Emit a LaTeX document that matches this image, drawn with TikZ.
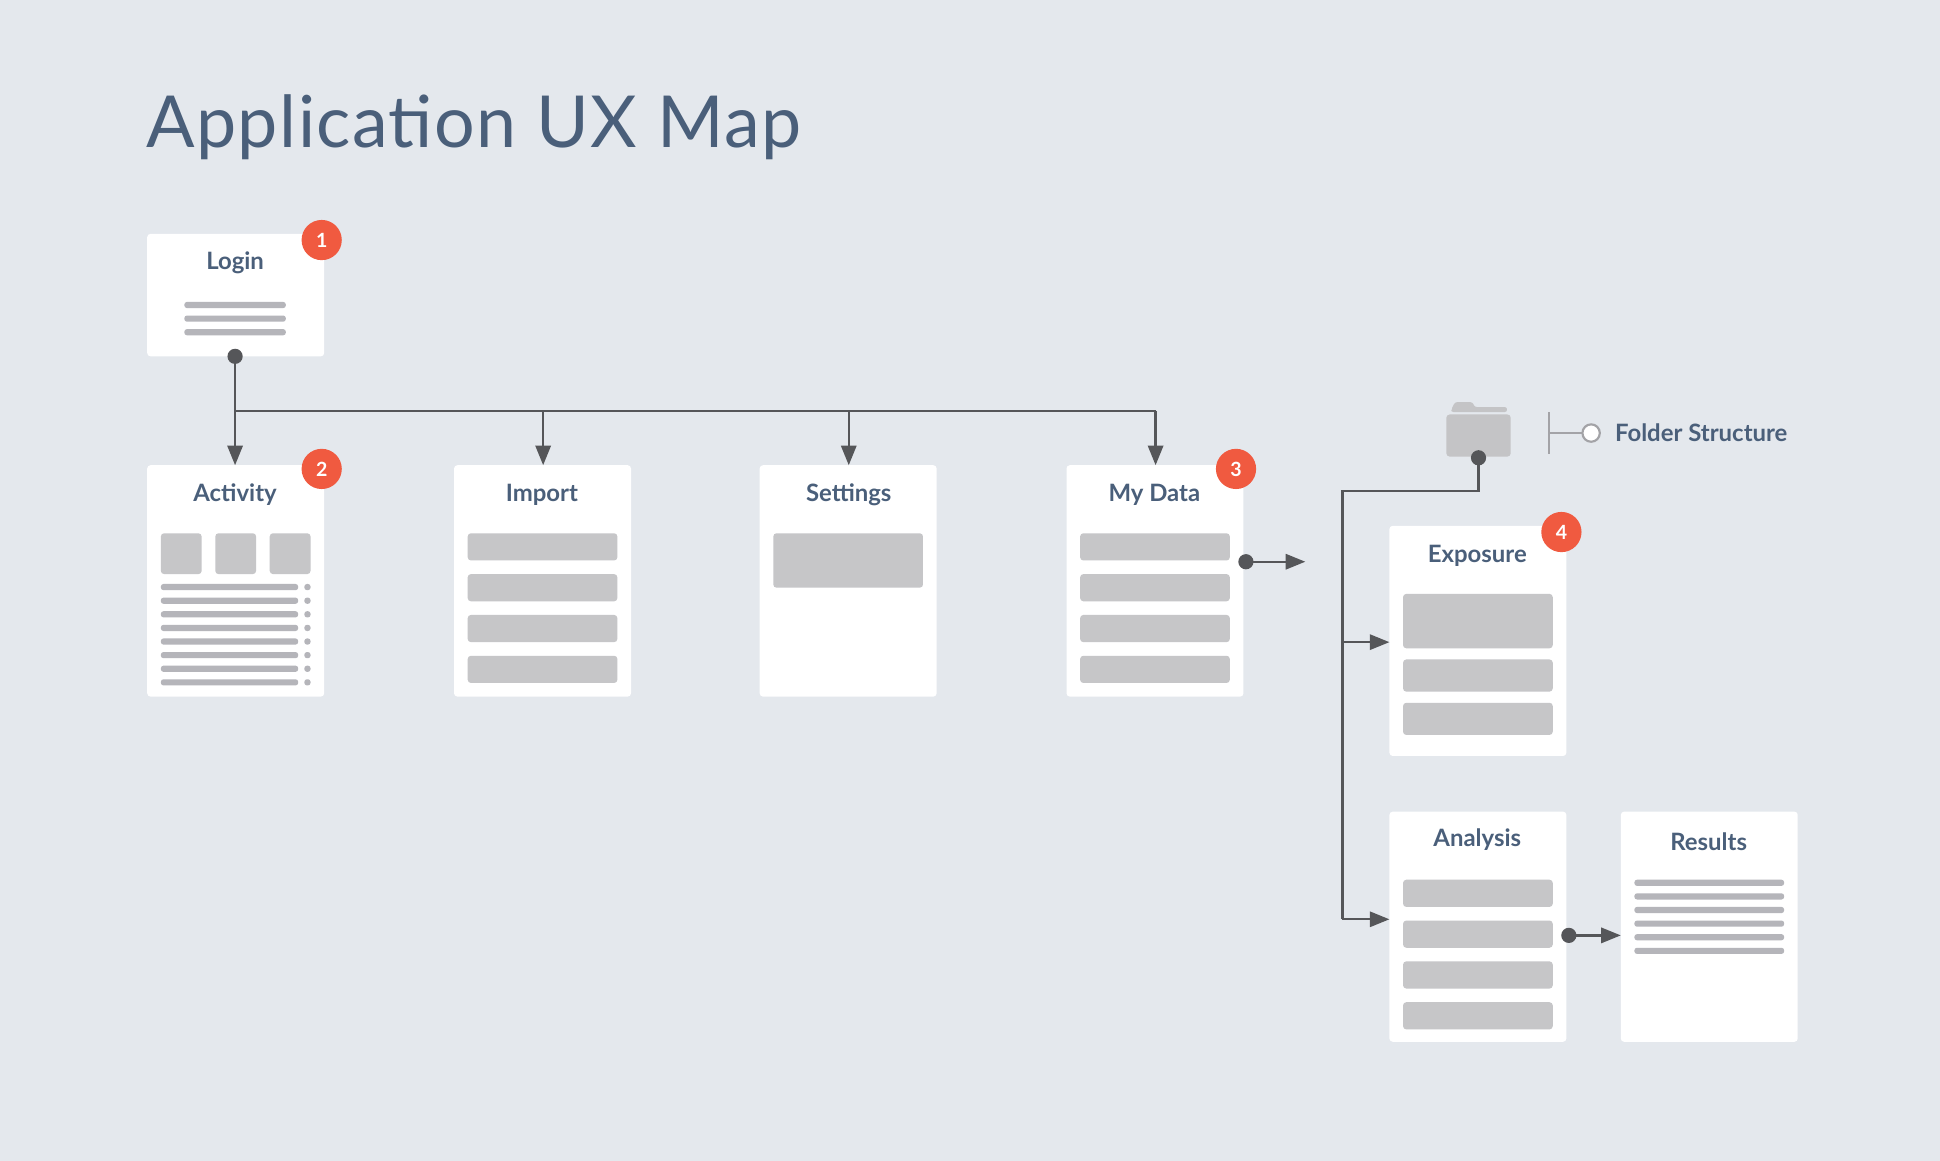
\documentclass[tikz,border=0pt]{standalone}
\usepackage{fontspec}
\setmainfont{Lato}
\usetikzlibrary{arrows.meta}
\definecolor{bg}{HTML}{E4E8ED}
\definecolor{ink}{HTML}{4A5F7A}
\definecolor{bar}{HTML}{C6C6C8}
\definecolor{ln}{HTML}{B5B5BA}
\definecolor{conn}{HTML}{555659}
\definecolor{badge}{HTML}{F05A40}
\definecolor{fold}{HTML}{C4C4C6}
\tikzset{
 card/.style={fill=white,rounded corners=1.5pt,draw=none},
 btitle/.style={text=ink,font=\fontsize{11}{13}\selectfont\bfseries,anchor=center},
 barr/.style={fill=bar,rounded corners=1.5pt},
 lnr/.style={fill=ln,rounded corners=1.2pt},
 badgec/.style={circle,fill=badge,minimum size=18.5pt,inner sep=0,text=white,font=\fontsize{9}{10}\selectfont\bfseries},
 conline/.style={draw=conn,line width=1.1pt},
 arr/.style={conline,-{Triangle[length=9pt,width=7pt]}},
 dotc/.style={circle,fill=conn,minimum size=7pt,inner sep=0},
}
\begin{document}
\begin{tikzpicture}[x=0.02cm,y=-0.02cm]
\fill[bg] (0,0) rectangle (1568,938);
\useasboundingbox (0,0) rectangle (1568,938);
\node[anchor=base west,inner sep=0,text=ink,font=\fontsize{33}{38}\selectfont\addfontfeatures{LetterSpace=2}] (title) at (118,119) {Application UX Map};
% cards
\foreach \n/\x/\y/\h in {login/119/189/99,activity/119/376/187,import/367/376/187,settings/614/376/187,mydata/862/376/187,exposure/1123/425/186,analysis/1123/656/186,results/1310/656/186}{
 \path[card] (\x,\y) rectangle ++(143,\h);
 \coordinate (\n-nw) at (\x,\y);
}
\node[btitle] (tlogin) at (190,212) {Login};
\node[btitle] (tact) at (190,400) {Activity};
\node[btitle] (timp) at (438,400) {Import};
\node[btitle] (tset) at (686,400) {Settings};
\node[btitle] (tmy) at (933,400) {My Data};
\node[btitle] (texp) at (1194,449) {Exposure};
\node[btitle] (tana) at (1194,679) {Analysis};
\node[btitle] (tres) at (1381,680) {Results};
% login lines
\foreach \y in {244,255,266} \path[lnr] (149,\y) rectangle (231,\y+5);
% activity
\foreach \x in {130,174,218} \path[barr] (\x,431) rectangle ++(33,33);
\foreach \y in {472,483,494,505,516,527,538,549}{\path[lnr] (130,\y) rectangle (241,\y+5); \path[lnr] (246,\y) rectangle (251,\y+5);}
% import / mydata
\foreach \x in {378,873}{\foreach \y in {431,464,497,530} \path[barr] (\x,\y) rectangle ++(121,22);}
\path[barr] (625,431) rectangle (746,475);
% exposure
\path[barr] (1134,480) rectangle (1255,524);
\path[barr] (1134,533) rectangle (1255,559);
\path[barr] (1134,568) rectangle (1255,594);
% analysis
\foreach \y in {711,744,777,810} \path[barr] (1134,\y) rectangle ++(121,22);
% results
\foreach \y in {711,722,733,744,755,766} \path[lnr] (1321,\y) rectangle (1442,\y+5);
% badges
\node[badgec] (b1) at (260,194) {1};
\node[badgec] (b2) at (260,379) {2};
\node[badgec] (b3) at (999,379) {3};
\node[badgec] (b4) at (1262,430) {4};
% folder
\fill[fold,rounded corners=1pt] (1173,331) -- (1176,325) -- (1190,325) -- (1192,329) -- (1218,329) -- (1218,333) -- (1173,333) -- cycle;
\fill[fold,rounded corners=1.5pt] (1169,335) rectangle (1221,369);
\coordinate (folder) at (1195,370);
% connectors
\coordinate (ldot) at (190,288);
\coordinate (hy) at (190,332);
\draw[arr] (ldot) -- (190,376);
\draw[conline] (hy) -- (934,332);
\foreach \x in {439,686,934} \draw[arr] (\x,332) -- (\x,376);
\node[dotc] (d0) at (ldot) {};
\coordinate (mdot) at (1007,454);
\draw[arr] (mdot) -- (1055,454);
\node[dotc] (d1) at (mdot) {};
\draw[conline] (folder) -- (1195,397) -- (1085,397) -- (1085,743);
\draw[arr] (1085,519) -- (1123,519);
\draw[arr] (1085,743) -- (1123,743);
\node[dotc] (d2) at (folder) {};
\coordinate (adot) at (1268,756);
\draw[arr] (adot) -- (1310,756);
\node[dotc] (d3) at (adot) {};
% legend
\draw[draw=ln!90!black,line width=1pt] (1252,333) -- (1252,367);
\draw[draw=ln!90!black,line width=1pt] (1252,350) -- (1280,350);
\node[circle,draw=ln!90!black,fill=white,line width=1pt,minimum size=8pt,inner sep=0] (lc) at (1286,350) {};
\node[anchor=west,inner sep=0,text=ink,font=\fontsize{11}{13}\selectfont\bfseries] (lt) at (1305,350) {Folder Structure};
\end{tikzpicture}
\end{document}
